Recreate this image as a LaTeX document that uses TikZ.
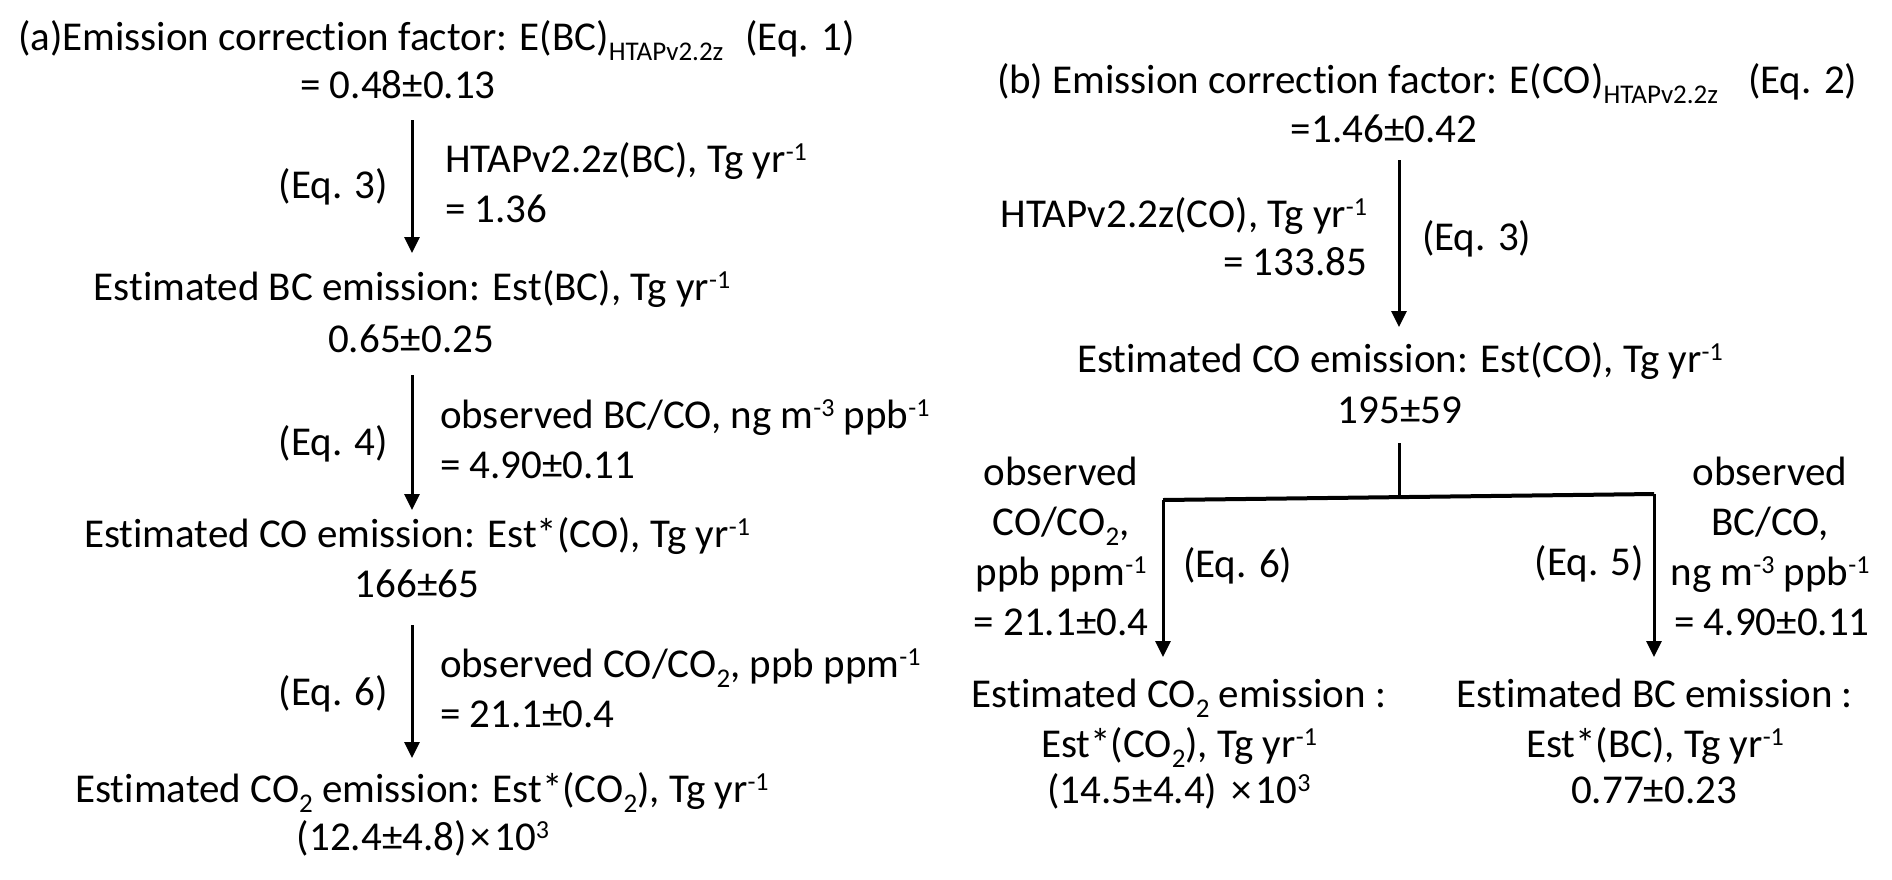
\documentclass[tikz,border=0pt]{standalone}
\usepackage{fontspec}
\setmainfont{Carlito}[Ligatures={NoCommon}]
\usetikzlibrary{arrows.meta}
\newcommand\supx[1]{\raisebox{12pt}{\fontsize{26}{26}\selectfont #1}}
\newcommand\subx[1]{\raisebox{-10pt}{\fontsize{27}{27}\selectfont #1}}
\begin{document}
\begin{tikzpicture}[x=1pt, y=-1pt,
  every node/.style={inner sep=0pt, outer sep=0pt, font=\fontsize{41}{50}\selectfont},
  arr/.style={line width=3pt, -{Triangle[width=15pt,length=16pt]}},
  bar/.style={line width=4pt}]
\path[fill=white, use as bounding box] (0,0) rectangle (1892,879);

% ---------- (a) ----------
\node[anchor=base west] (atitle) at (18,50) {(a)Emission correction factor: E(BC)\subx{HTAPv2.2z}\hspace{22pt}(Eq. 1)};
\node[anchor=base] (aval1) at (398,98) {= 0.48±0.13};
\node[anchor=base east] (aeq3) at (388,198) {(Eq. 3)};
\node[anchor=base west] (ahtap) at (445,172) {HTAPv2.2z(BC), Tg yr\supx{-1}};
\node[anchor=base west] (ahtapv) at (445,222) {= 1.36};
\node[anchor=base] (aestbc) at (412,300) {Estimated BC emission: Est(BC), Tg yr\supx{-1}};
\node[anchor=base] (aestbcv) at (411,352) {0.65±0.25};
\node[anchor=base east] (aeq4) at (388,455) {(Eq. 4)};
\node[anchor=base west] (aobs1) at (440,428) {observed BC/CO, ng m\supx{-3} ppb\supx{-1}};
\node[anchor=base west] (aobs1v) at (440,478) {= 4.90±0.11};
\node[anchor=base] (aestco) at (417,547) {Estimated CO emission: Est*(CO), Tg yr\supx{-1}};
\node[anchor=base] (aestcov) at (417,597) {166±65};
\node[anchor=base east] (aeq6) at (388,705) {(Eq. 6)};
\node[anchor=base west] (aobs2) at (440,677) {observed CO/CO\subx{2}, ppb ppm\supx{-1}};
\node[anchor=base west] (aobs2v) at (440,727) {= 21.1±0.4};
\node[anchor=base] (aestco2) at (422,802) {Estimated CO\subx{2} emission: Est*(CO\subx{2}), Tg yr\supx{-1}};
\node[anchor=base] (aestco2v) at (423,850) {(12.4±4.8)\hspace{4pt}×\hspace{3pt}10\supx{3}};

\coordinate (a1s) at (412,120); \coordinate (a1e) at (412,253);
\coordinate (a2s) at (412,375); \coordinate (a2e) at (412,510);
\coordinate (a3s) at (412,625); \coordinate (a3e) at (412,758);
\draw[arr] (a1s) -- (a1e);
\draw[arr] (a2s) -- (a2e);
\draw[arr] (a3s) -- (a3e);

% ---------- (b) ----------
\node[anchor=base west] (btitle) at (997,93) {(b) Emission correction factor: E(CO)\subx{HTAPv2.2z}\hspace{30pt}(Eq. 2)};
\node[anchor=base] (bval1) at (1384,142) {=1.46±0.42};
\node[anchor=base east] (bhtap) at (1367,227) {HTAPv2.2z(CO), Tg yr\supx{-1}};
\node[anchor=base east] (bhtapv) at (1367,275) {= 133.85};
\node[anchor=base west] (beq3) at (1422,250) {(Eq. 3)};
\node[anchor=base] (bestco) at (1400,372) {Estimated CO emission: Est(CO), Tg yr\supx{-1}};
\node[anchor=base] (bestcov) at (1400,423) {195±59};

\node[anchor=base] (bl1) at (1061,485) {observed};
\node[anchor=base] (bl2) at (1061,535) {CO/CO\subx{2},};
\node[anchor=base] (bl3) at (1061,585) {ppb ppm\supx{-1}};
\node[anchor=base] (bl4) at (1061,635) {= 21.1±0.4};
\node[anchor=base west] (beq6) at (1183,577) {(Eq. 6)};
\node[anchor=base east] (beq5) at (1644,575) {(Eq. 5)};
\node[anchor=base] (br1) at (1770,485) {observed};
\node[anchor=base] (br2) at (1770,535) {BC/CO,};
\node[anchor=base] (br3) at (1770,585) {ng m\supx{-3} ppb\supx{-1}};
\node[anchor=base] (br4) at (1772,635) {= 4.90±0.11};

\node[anchor=base] (bco2a) at (1179,707) {Estimated CO\subx{2} emission :};
\node[anchor=base] (bco2b) at (1179,757) {Est*(CO\subx{2}), Tg yr\supx{-1}};
\node[anchor=base] (bco2c) at (1179,803) {(14.5±4.4)\hspace{14pt}×\hspace{4pt}10\supx{3}};
\node[anchor=base] (bbca) at (1655,707) {Estimated BC emission :};
\node[anchor=base] (bbcb) at (1655,757) {Est*(BC), Tg yr\supx{-1}};
\node[anchor=base] (bbcc) at (1654,803) {0.77±0.23};

\coordinate (b1s) at (1399,160); \coordinate (b1e) at (1399,327);
\coordinate (bstub) at (1399,443); \coordinate (bjoin) at (1399,497);
\coordinate (bbl) at (1163,500); \coordinate (bbr) at (1654,494);
\coordinate (bble) at (1163,657); \coordinate (bbre) at (1654,657);
\draw[arr] (b1s) -- (b1e);
\draw[line width=3pt] (bstub) -- (bjoin);
\draw[bar] (bbl) -- (bbr);
\draw[arr] (bbl) -- (bble);
\draw[arr] (bbr) -- (bbre);
\end{tikzpicture}
\end{document}
